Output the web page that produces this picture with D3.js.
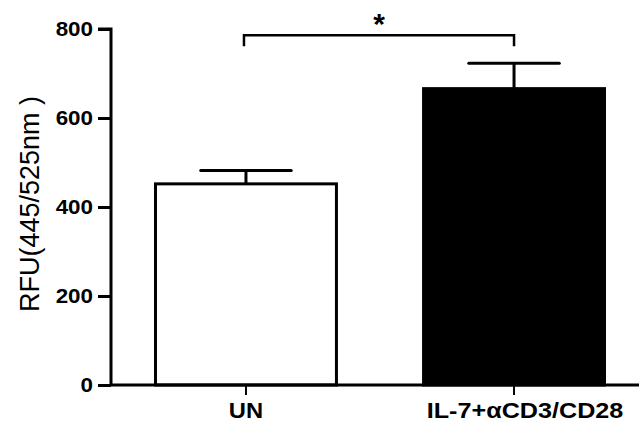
<!DOCTYPE html>
<html>
<head>
<meta charset="utf-8">
<script src="https://cdn.jsdelivr.net/npm/d3@7"></script>
<style>
  body { margin: 0; background: #fff; }
  text { font-family: "Liberation Sans", Arial, sans-serif; }
</style>
</head>
<body>
<div id="chart"></div>
<script>
// data
var groups = ["UN", "IL-7+\u03b1CD3/CD28"];
var means = [452, 666];
var errors = [30, 57];
var fills = ["#ffffff", "#000000"];
var yTicks = [0, 200, 400, 600, 800];

var svgWidth = 639;
var svgHeight = 429;

var svg = d3.select("#chart")
  .append("svg")
  .attr("width", svgWidth)
  .attr("height", svgHeight);

// scales
var x = d3.scaleBand()
  .domain(groups)
  .range([111, 649])
  .paddingInner(0.325)
  .paddingOuter(0.166);

var y = d3.scaleLinear()
  .domain([0, 800])
  .range([385, 29]);

// y axis
var leftAxis = d3.axisLeft(y)
  .tickValues(yTicks)
  .tickSize(13)
  .tickPadding(5);

var yAxis = svg.append("g")
  .attr("transform", "translate(111,0)")
  .call(leftAxis);
yAxis.select(".domain")
  .attr("d", "M-13," + y(800) + "H0V" + y(0))
  .attr("stroke-width", 3);
yAxis.selectAll(".tick line").attr("stroke-width", 3);
// the picture is slightly stretched sideways, so widen the glyphs a bit
yAxis.selectAll(".tick text")
  .attr("x", 0)
  .attr("transform", "translate(-18,0) scale(1.12,1)")
  .attr("font-size", 20)
  .attr("font-weight", "bold")
  .attr("font-family", "Liberation Sans, Arial, sans-serif")
  .attr("fill", "#000");

// bars
svg.selectAll("rect.bar")
  .data(groups)
  .enter()
  .append("rect")
  .attr("class", "bar")
  .attr("x", function (d) { return x(d); })
  .attr("y", function (d, i) { return y(means[i]); })
  .attr("width", x.bandwidth())
  .attr("height", function (d, i) { return y(0) - y(means[i]); })
  .attr("fill", function (d, i) { return fills[i]; })
  .attr("stroke", "#000")
  .attr("stroke-width", 3);

// error bars (upper only)
var capHalf = x.bandwidth() * 0.25;
groups.forEach(function (g, i) {
  var cx = x(g) + x.bandwidth() / 2;
  svg.append("line")
    .attr("x1", cx).attr("x2", cx)
    .attr("y1", y(means[i])).attr("y2", y(means[i] + errors[i]))
    .attr("stroke", "#000").attr("stroke-width", 3);
  svg.append("line")
    .attr("x1", cx - capHalf).attr("x2", cx + capHalf)
    .attr("y1", y(means[i] + errors[i])).attr("y2", y(means[i] + errors[i]))
    .attr("stroke", "#000").attr("stroke-width", 3)
    .attr("stroke-linecap", "round");
});

// x axis
var bottomAxis = d3.axisBottom(x).tickSize(10).tickPadding(6);
var xAxis = svg.append("g")
  .attr("transform", "translate(0,385)")
  .call(bottomAxis);
xAxis.select(".domain")
  .attr("d", "M111,0H639")
  .attr("stroke-width", 3);
xAxis.selectAll(".tick line").attr("stroke-width", 2);
xAxis.selectAll(".tick text")
  .attr("y", 0)
  .attr("dy", 0)
  .attr("transform", function (d, i) {
    return i === 0 ? "translate(0,33) scale(1.08,1)" : "translate(11,33) scale(1.08,1)";
  })
  .attr("font-size", 22)
  .attr("font-weight", "bold")
  .attr("font-family", "Liberation Sans, Arial, sans-serif")
  .attr("fill", "#000");
xAxis.selectAll(".tick text")
  .filter(function (d, i) { return i === 1; })
  .attr("textLength", 182)
  .attr("lengthAdjust", "spacingAndGlyphs");

// significance bracket
var bx1 = x(groups[0]) + x.bandwidth() / 2 - 2;
var bx2 = x(groups[1]) + x.bandwidth() / 2;
var by = y(786);
svg.append("path")
  .attr("d", "M" + bx1 + "," + (by + 11) + "V" + by + "H" + bx2 + "V" + (by + 11))
  .attr("fill", "none")
  .attr("stroke", "#000")
  .attr("stroke-width", 2.5);
svg.append("text")
  .attr("x", (bx1 + bx2) / 2)
  .attr("y", by - 1)
  .attr("text-anchor", "middle")
  .attr("font-size", 30)
  .attr("font-weight", "bold")
  .text("*");

// y label
svg.append("text")
  .attr("transform", "translate(39,204) rotate(-90)")
  .attr("text-anchor", "middle")
  .attr("font-size", 27)
  .text("RFU(445/525nm )");
</script>
</body>
</html>
